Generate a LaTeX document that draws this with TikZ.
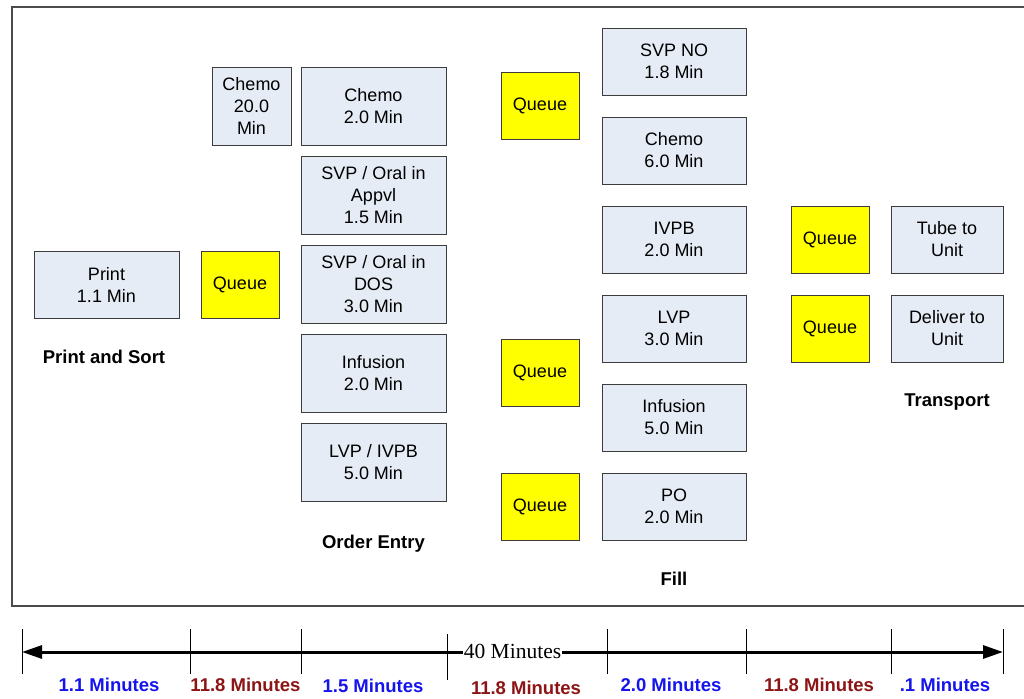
\documentclass[tikz,border=0pt]{standalone}
\usepackage{fontspec}
\setmainfont{Liberation Sans}
\newfontfamily\timesfont{Liberation Serif}
\usetikzlibrary{arrows.meta}
\definecolor{boxfill}{RGB}{230,236,246}
\definecolor{boxline}{RGB}{60,60,60}
\definecolor{queuefill}{RGB}{255,255,0}
\definecolor{minblue}{RGB}{20,20,235}
\definecolor{minred}{RGB}{140,20,20}

\begin{document}
\begin{tikzpicture}[
  x=1pt, y=-1pt,
  every node/.style={font=\fontsize{18}{22}\selectfont, inner sep=0pt, outer sep=0pt},
  procbox/.style={draw=boxline, line width=0.8pt, fill=boxfill, align=center, minimum width=145pt, minimum height=67pt},
  tallbox/.style={procbox, minimum height=78pt},
  queuebox/.style={draw=boxline, line width=0.8pt, fill=queuefill, minimum width=78pt, minimum height=67pt},
  stagelabel/.style={font=\fontsize{18.5}{22}\selectfont\bfseries},
  timelabel/.style={font=\fontsize{18.5}{22}\selectfont\bfseries},
]
  \useasboundingbox (0,0) rectangle (1024,698);
  % frame (open on the right)
  \draw[gray!60!black, line width=1.3pt] (1024,7) -- (12,7) -- (12,606) -- (1024,606);

  % Print and Sort
  \node[procbox] (print) at (106.5,284.5) {Print\\1.1 Min};
  \node[queuebox] (q1) at (240,284.5) {Queue};
  \node[stagelabel] (lsort) at (104,357) {Print and Sort};

  % Order Entry
  \node[tallbox, minimum width=79pt] (chemo20) at (251.5,106) {Chemo\\20.0\\Min};
  \node[tallbox] (oechemo) at (373.5,106) {Chemo\\2.0 Min};
  \node[tallbox] (oeappvl) at (373.5,195) {SVP / Oral in\\Appvl\\1.5 Min};
  \node[tallbox] (oedos) at (373.5,284) {SVP / Oral in\\DOS\\3.0 Min};
  \node[tallbox] (oeinf) at (373.5,373) {Infusion\\2.0 Min};
  \node[tallbox] (oelvp) at (373.5,462) {LVP / IVPB\\5.0 Min};
  \node[stagelabel] (lentry) at (373.5,544) {Order Entry};

  % Fill
  \node[queuebox] (q2) at (540,106) {Queue};
  \node[queuebox] (q3) at (540,373) {Queue};
  \node[queuebox] (q4) at (540,507) {Queue};
  \node[procbox, minimum width=144pt] (fsvp) at (674,61.5) {SVP NO\\1.8 Min};
  \node[procbox, minimum width=144pt] (fchemo) at (674,150.5) {Chemo\\6.0 Min};
  \node[procbox, minimum width=144pt] (fivpb) at (674,239.5) {IVPB\\2.0 Min};
  \node[procbox, minimum width=144pt] (flvp) at (674,328.5) {LVP\\3.0 Min};
  \node[procbox, minimum width=144pt] (finf) at (674,417.5) {Infusion\\5.0 Min};
  \node[procbox, minimum width=144pt] (fpo) at (674,506.5) {PO\\2.0 Min};
  \node[stagelabel] (lfill) at (674,579) {Fill};

  % Transport
  \node[queuebox] (q5) at (830,239.5) {Queue};
  \node[queuebox] (q6) at (830,328.5) {Queue};
  \node[procbox, minimum width=112pt] (tube) at (947,239.5) {Tube to\\Unit};
  \node[procbox, minimum width=112pt] (deliver) at (947,328.5) {Deliver to\\Unit};
  \node[stagelabel] (ltrans) at (947,402) {Transport};

  % time line
  \coordinate (tl) at (22,652);
  \coordinate (tr) at (1003,652);
  \draw[line width=3pt, {Triangle[length=20pt,width=13pt]}-{Triangle[length=20pt,width=13pt]}] (tl) -- (tr);
  \foreach \x in {22,190,301,607,746,891,1003}
    \draw[line width=0.8pt] (\x,629) -- (\x,674);
  \draw[line width=0.8pt] (447,634) -- (447,680);
  \node[fill=white, inner xsep=1pt, inner ysep=3pt, font=\fontsize{21.5}{24}\selectfont\timesfont] (total) at (512.5,651) {40 Minutes};

  \node[timelabel, text=minblue] (t1) at (109,685) {1.1 Minutes};
  \node[timelabel, text=minred] (t2) at (245.5,685) {11.8 Minutes};
  \node[timelabel, text=minblue] (t3) at (373,686) {1.5 Minutes};
  \node[timelabel, text=minred] (t4) at (526,688) {11.8 Minutes};
  \node[timelabel, text=minblue] (t5) at (671,685) {2.0 Minutes};
  \node[timelabel, text=minred] (t6) at (819,685) {11.8 Minutes};
  \node[timelabel, text=minblue] (t7) at (945,685) {.1 Minutes};
\end{tikzpicture}
\end{document}
